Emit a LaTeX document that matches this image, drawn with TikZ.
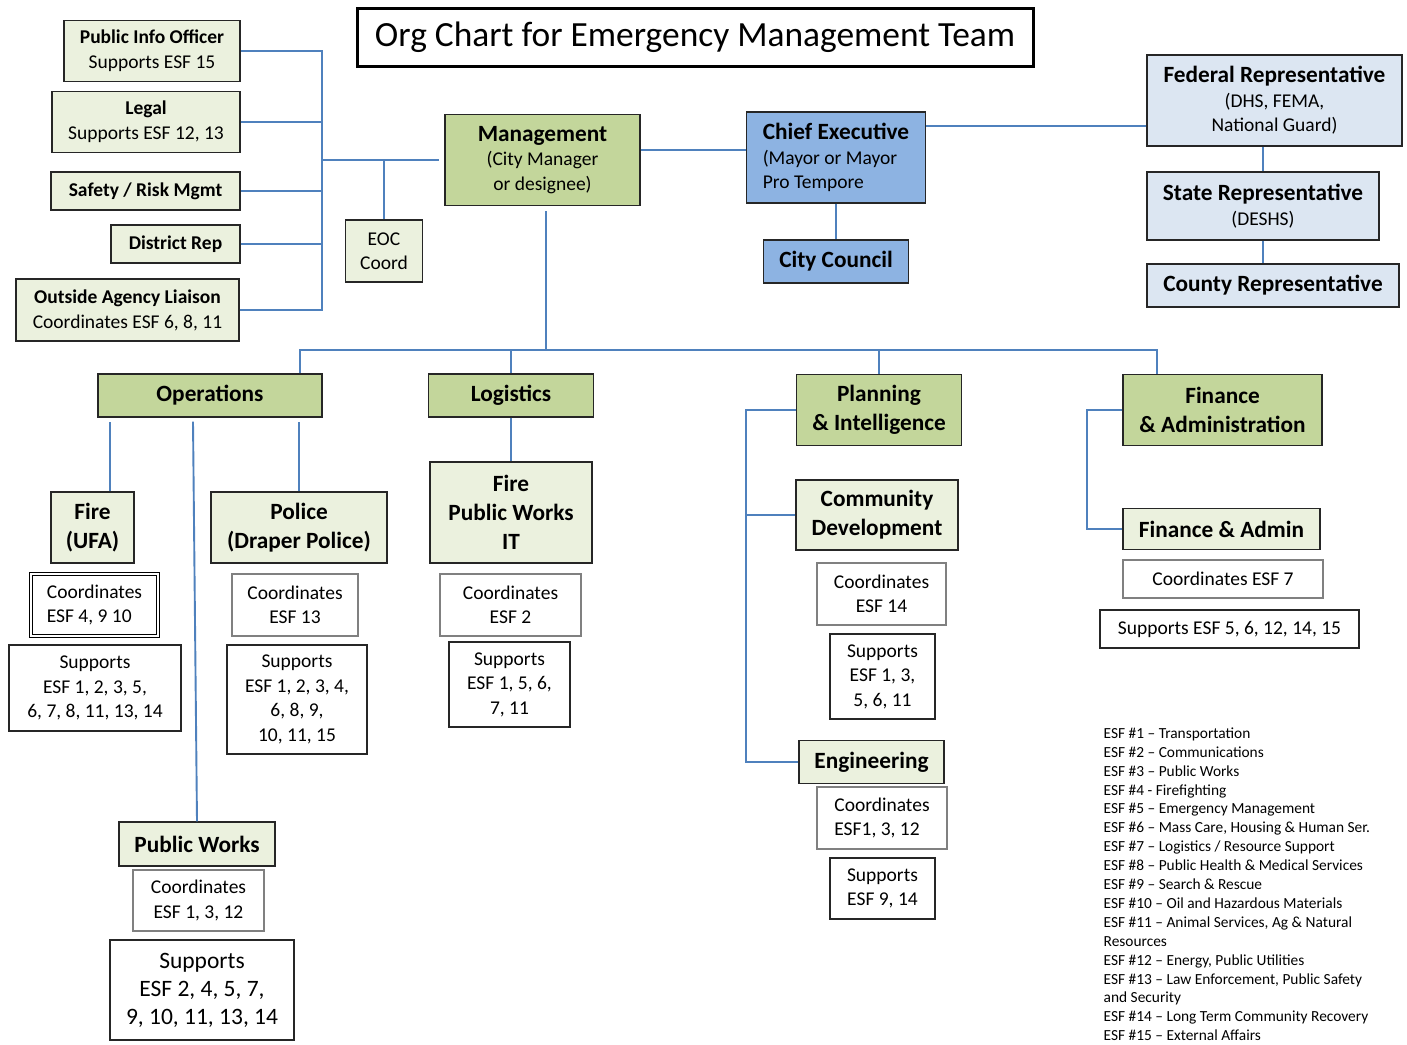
\documentclass[tikz,border=0pt]{standalone}
\usepackage{fontspec}
\setmainfont{Carlito}

\definecolor{dkgreen}{HTML}{C3D69B}
\definecolor{ltgreen}{HTML}{EBF1DE}
\definecolor{chiefblue}{HTML}{8DB3E2}
\definecolor{paleblue}{HTML}{DCE6F2}
\definecolor{linkblue}{HTML}{4F81BD}

\newcommand\headfont{\fontsize{23.3}{29}\selectfont\bfseries}
\newcommand\leftfont{\fontsize{19.5}{25}\selectfont\bfseries}
\newcommand\subfont{\normalfont\fontsize{19.5}{24.5}\selectfont}
\newcommand\bigfont{\fontsize{23.5}{28}\selectfont}
\newcommand\keyfont{\fontsize{15.4}{18.9}\selectfont}

\begin{document}
\begin{tikzpicture}[x=1pt, y=-1pt,
  every node/.style={inner sep=0pt, align=center, draw=black!85, line width=1.3pt},
  wh/.style 2 args={minimum width=#1pt, minimum height=#2pt},
  titlebox/.style={draw=black, line width=3pt, fill=white, font=\fontsize{35.4}{42}\selectfont},
  dark/.style={fill=dkgreen, font=\headfont},
  pale/.style={fill=ltgreen, font=\headfont},
  chief/.style={fill=chiefblue, font=\headfont},
  rep/.style={fill=paleblue, font=\headfont},
  plain/.style={fill=white, font=\subfont},
  grey/.style={fill=white, draw=black!50, line width=1.8pt, font=\subfont},
  link/.style={draw=linkblue, line width=1.9pt}]

  \useasboundingbox (0,0) rectangle (1407,1044);

  %% title
  \node[titlebox, wh={676}{58}] (title) at (695,37) {Org Chart for Emergency Management Team};

  %% staff on the left
  \node[pale, wh={176}{61}, font=\leftfont] (pio) at (152,51) {Public Info Officer\\\subfont Supports ESF 15};
  \node[pale, wh={188}{61}, font=\leftfont] (legal) at (146,122) {Legal\\\subfont Supports ESF 12, 13};
  \node[pale, wh={189}{38}, font=\leftfont] (safety) at (145.5,191) {Safety / Risk Mgmt};
  \node[pale, wh={129}{38}, font=\leftfont] (district) at (175.5,244) {District Rep};
  \node[pale, wh={223}{62}, font=\leftfont] (outside) at (127.5,310) {Outside Agency Liaison\\\subfont Coordinates ESF 6, 8, 11};
  \node[pale, wh={77}{62}, font=\subfont] (eoc) at (384,251) {EOC\\Coord};

  %% top row
  \node[dark, wh={195}{91}, font=\subfont] (mgmt) at (542.5,160) {\headfont Management\\(City Manager\\or designee)};
  \node[chief, wh={179}{91}, font=\subfont, align=left] (chief) at (836,157.5) {\headfont Chief Executive\\(Mayor or Mayor\\Pro Tempore};
  \node[chief, wh={145}{43}] (council) at (836,261.5) {City Council};
  \node[rep, wh={255}{91}, font=\subfont] (fed) at (1274.5,100.5) {\headfont Federal Representative\\(DHS, FEMA,\\National Guard)};
  \node[rep, wh={232}{68}, font=\subfont] (state) at (1263,206) {\headfont State Representative\\(DESHS)};
  \node[rep, wh={252}{43}] (county) at (1273,285.5) {County Representative};

  %% operations
  \node[dark, wh={224}{43}] (ops) at (210,395.5) {Operations};
  \node[pale, wh={83}{71}] (fire) at (92.5,527.5) {Fire\\(UFA)};
  \node[pale, wh={176}{71}] (police) at (299,527.5) {Police\\(Draper Police)};
  \node[plain, wh={127}{62}, double, double distance=2pt, line width=0.8pt, draw=black, align=left] (firec) at (94.5,605) {Coordinates\\ESF 4, 9 10};
  \node[plain, wh={172}{86}] (fires) at (95,688) {Supports\\ESF 1, 2, 3, 5,\\6, 7, 8, 11, 13, 14};
  \node[grey, wh={126}{62}] (polc) at (295,605) {Coordinates\\ESF 13};
  \node[plain, wh={140}{109}] (pols) at (297,699.5) {Supports\\ESF 1, 2, 3, 4,\\6, 8, 9,\\10, 11, 15};
  \node[pale, wh={156}{44}] (pw) at (197,844) {Public Works};
  \node[grey, wh={131}{61}] (pwc) at (198.5,900.5) {Coordinates\\ESF 1, 3, 12};
  \node[plain, wh={184}{100}, font=\bigfont] (pws) at (202,990) {Supports\\ESF 2, 4, 5, 7,\\9, 10, 11, 13, 14};

  %% logistics
  \node[dark, wh={165}{43}] (log) at (511,395.5) {Logistics};
  \node[pale, wh={162}{101}] (fpi) at (511,512.5) {Fire\\Public Works\\IT};
  \node[grey, wh={141}{62}] (logc) at (510.5,605) {Coordinates\\ESF 2};
  \node[plain, wh={121}{85}] (logs) at (509.5,684.5) {Supports\\ESF 1, 5, 6,\\7, 11};

  %% planning
  \node[dark, wh={165}{71}] (plan) at (879,410) {Planning\\\& Intelligence};
  \node[pale, wh={162}{70}] (cd) at (877,515) {Community\\Development};
  \node[grey, wh={129}{62}] (cdc) at (881.5,594) {Coordinates\\ESF 14};
  \node[plain, wh={105}{85}] (cds) at (882.5,676.5) {Supports\\ESF 1, 3,\\5, 6, 11};
  \node[pale, wh={145}{43}] (eng) at (871.5,762) {Engineering};
  \node[grey, wh={130}{62}, align=left] (engc) at (882,818) {Coordinates\\ESF1, 3, 12};
  \node[plain, wh={105}{61}] (engs) at (882.5,888.5) {Supports\\ESF 9, 14};

  %% finance
  \node[dark, wh={199}{71}] (fin) at (1222.5,410) {Finance\\\& Administration};
  \node[pale, wh={197}{41}] (fa) at (1221.5,529) {Finance \& Admin};
  \node[grey, wh={200}{38}] (finc) at (1223,579) {Coordinates ESF 7};
  \node[plain, wh={259}{38}] (fins) at (1229.5,629) {Supports ESF 5, 6, 12, 14, 15};

  %% key
  \node[draw=none, anchor=north west, align=left, font=\keyfont] (key) at (1103,727) {%
    ESF \#1 – Transportation\\
    ESF \#2 – Communications\\
    ESF \#3 – Public Works\\
    ESF \#4 - Firefighting\\
    ESF \#5 – Emergency Management\\
    ESF \#6 – Mass Care, Housing \& Human Ser.\\
    ESF \#7 – Logistics / Resource Support\\
    ESF \#8 – Public Health \& Medical Services\\
    ESF \#9 – Search \& Rescue\\
    ESF \#10 – Oil and Hazardous Materials\\
    ESF \#11 – Animal Services, Ag \& Natural\\
    Resources\\
    ESF \#12 – Energy, Public Utilities\\
    ESF \#13 – Law Enforcement,  Public Safety\\
    and Security\\
    ESF \#14 – Long Term Community Recovery\\
    ESF \#15 – External Affairs};

  %% left staff to management
  \coordinate (lbus) at (322,160);
  \draw[link] (pio.east) -| (lbus);
  \draw[link] (outside.east) -| (lbus);
  \draw[link] (legal.east) -- (legal.east -| lbus);
  \draw[link] (safety.east) -- (safety.east -| lbus);
  \draw[link] (district.east) -- (district.east -| lbus);
  \draw[link] (lbus) -- ([xshift=-5pt]mgmt.west);
  \draw[link] (eoc.north) -- (eoc.north |- lbus);

  %% management, chief, representatives
  \coordinate (mc) at ([yshift=10pt]mgmt.east);
  \draw[link] (mc) -- (mc -| chief.west);
  \coordinate (fc) at ([yshift=-25.5pt]fed.west);
  \draw[link] (fc) -- (fc -| chief.east);
  \draw[link] (chief.south) -- (council.north);
  \draw[link] (state.north) -- (state.north |- fed.south);
  \draw[link] (state.south) -- (state.south |- county.north);

  %% sections
  \coordinate (hub) at (546,350);
  \coordinate (opsdrop) at ([xshift=-23pt]ops.north east);
  \coordinate (findrop) at ([xshift=35pt]fin.north west);
  \draw[link] ([xshift=3.5pt,yshift=-5pt]mgmt.south) -- (hub);
  \draw[link] (opsdrop) |- (hub) -| (findrop);
  \draw[link] (log.north) -- (log.north |- hub);
  \draw[link] (plan.north) -- (plan.north |- hub);

  %% under operations
  \coordinate (opsfoot) at ([yshift=-4pt]ops.south);
  \coordinate (firetop) at ([xshift=17.5pt]fire.north);
  \coordinate (pwtop) at ([xshift=-4pt]pw.north);
  \draw[link] (firetop) -- (firetop |- opsfoot);
  \draw[link] (police.north) -- (police.north |- opsfoot);
  \draw[link] (pw.north) -- (pwtop |- opsfoot);

  %% logistics, planning, finance
  \draw[link] (log.south) -- (fpi.north);
  \draw[link] (plan.west) -- ++(-50,0) coordinate (pbar) |- (eng.west);
  \draw[link] (cd.west) -- (cd.west -| pbar);
  \draw[link] (fin.west) -- ++(-35,0) |- (fa.west);
\end{tikzpicture}
\end{document}
